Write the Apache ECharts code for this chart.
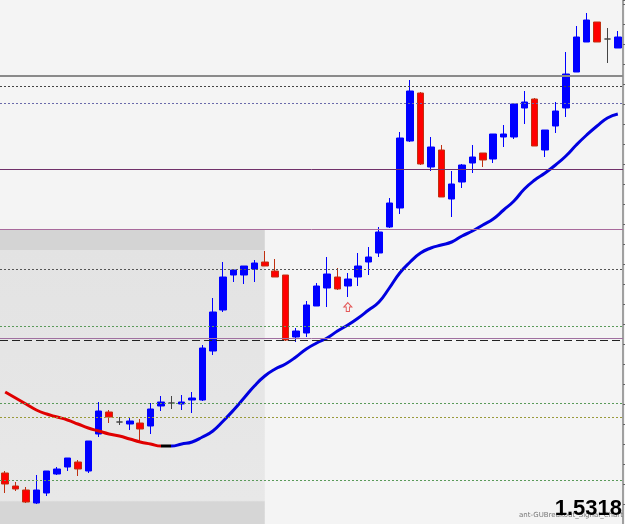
<!DOCTYPE html>
<html>
<head>
<meta charset="utf-8">
<script src="https://cdn.jsdelivr.net/npm/echarts@6/dist/echarts.min.js"></script>
<style>
  html, body { margin: 0; padding: 0; background: #f4f4f4; }
  #main { width: 625px; height: 524px; }
</style>
</head>
<body>
<div id="main"></div>
<script>
// candles: open, close, low, high
let opens  = [1.4851,1.4838,1.4834,1.4821,1.4831,1.4850,1.4857,1.4862,1.4853,1.4890,
              1.4912,1.4902,1.4900,1.4901,1.4898,1.4918,1.4921,1.4920,1.4924,1.4924,
              1.4973,1.5014,1.5049,1.5049,1.5055,1.5062,1.5053,1.5049,1.4987,1.4991,
              1.5018,1.5036,1.5047,1.5038,1.5047,1.5062,1.5071,1.5097,1.5116,1.5183,
              1.5231,1.5157,1.5174,1.5125,1.5142,1.5161,1.5171,1.5165,1.5187,1.5187,
              1.5216,1.5225,1.5174,1.5198,1.5216,1.5252,1.5282,1.5302,1.5285,1.5276]
let closes = [1.4840,1.4835,1.4822,1.4834,1.4853,1.4855,1.4866,1.4855,1.4883,1.4913,
              1.4907,1.4902,1.4903,1.4895,1.4915,1.4922,1.4921,1.4922,1.4926,1.4976,
              1.5012,1.5047,1.5054,1.5058,1.5061,1.5058,1.5047,1.4984,1.4993,1.5019,
              1.5038,1.5050,1.5035,1.5045,1.5058,1.5067,1.5092,1.5121,1.5186,1.5233,
              1.5160,1.5177,1.5127,1.5140,1.5159,1.5167,1.5164,1.5190,1.5190,1.5220,
              1.5222,1.5178,1.5194,1.5213,1.5250,1.5287,1.5304,1.5282,1.5285,1.5287]
let lows   = [1.4831,1.4833,1.4821,1.4820,1.4828,1.4849,1.4853,1.4848,1.4851,1.4887,
              1.4901,1.4899,1.4894,1.4882,1.4890,1.4913,1.4915,1.4914,1.4911,1.4923,
              1.4969,1.5012,1.5042,1.5040,1.5042,1.5058,1.5047,1.4983,1.4982,1.4987,
              1.5018,1.5017,1.5034,1.5027,1.5038,1.5049,1.5067,1.5096,1.5110,1.5182,
              1.5159,1.5153,1.5127,1.5107,1.5136,1.5151,1.5157,1.5161,1.5177,1.5185,
              1.5200,1.5178,1.5167,1.5191,1.5207,1.5252,1.5282,1.5282,1.5261,1.5276]
let highs  = [1.4853,1.4842,1.4837,1.4849,1.4853,1.4857,1.4866,1.4864,1.4883,1.4922,
              1.4914,1.4907,1.4906,1.4905,1.4921,1.4928,1.4928,1.4929,1.4932,1.4979,
              1.5026,1.5062,1.5055,1.5058,1.5064,1.5073,1.5065,1.5049,1.4996,1.5023,
              1.5041,1.5067,1.5056,1.5051,1.5071,1.5077,1.5097,1.5126,1.5192,1.5244,
              1.5232,1.5187,1.5179,1.5153,1.5160,1.5179,1.5171,1.5190,1.5199,1.5220,
              1.5233,1.5226,1.5194,1.5222,1.5272,1.5298,1.5311,1.5302,1.5296,1.5293]

// moving average
let maValues = [1.4932,1.4926,1.4920,1.4914,1.4910,1.4907,1.4904,1.4900,1.4896,1.4893,
                1.4890,1.4888,1.4885,1.4882,1.4880,1.4878,1.4878,1.4880,1.4882,1.4887,
                1.4893,1.4903,1.4914,1.4926,1.4938,1.4948,1.4955,1.4960,1.4967,1.4975,
                1.4981,1.4986,1.4993,1.4999,1.5006,1.5014,1.5022,1.5036,1.5051,1.5062,
                1.5071,1.5076,1.5079,1.5082,1.5088,1.5093,1.5099,1.5105,1.5114,1.5123,
                1.5135,1.5144,1.5151,1.5159,1.5168,1.5179,1.5189,1.5198,1.5206,1.5210]

// horizontal price levels
let levelPrices = [1.5248, 1.5238, 1.5221, 1.5155, 1.5095, 1.5055, 1.4998, 1.4986, 1.4984, 1.4921, 1.4907, 1.4844]
let levelColors = ['#8a8a8a','#444444','#6a6aaa','#70306a','#a86a9c','#555555','#5a9a5a','#a070a0','#222222','#5a9a5a','#9a9a3a','#5a9a5a']
let levelTypes  = ['solid','dotted','dotted','solid','solid','dotted','dotted','solid','dashed','dotted','dotted','dotted']

// shaded zone (ends at candle 25, top at the 1.5095 level)
let zoneEndIndex = 25
let zoneTop = 1.5095

// signal arrow
let arrowIndex = 33
let arrowPrice = 1.5017

let yMin = 1.4800
let yMax = 1.5324

let categories = opens.map((v, i) => i)

let candleData = opens.map((o, i) => {
    let item = { value: [o, closes[i], lows[i], highs[i]] }
    if (o === closes[i]) {
        item.itemStyle = { color: '#444', borderColor: '#444' }
    }
    return item
})

let levelLines = levelPrices.map((p, i) => {
    let t = levelTypes[i]
    return {
        yAxis: p,
        lineStyle: {
            color: levelColors[i],
            width: i === 0 ? 2 : 1,
            type: t === 'dotted' ? [2, 2] : (t === 'dashed' ? [8, 4] : 'solid')
        }
    }
})

let myChart = echarts.init(document.getElementById('main'))

myChart.setOption({
    animation: false,
    backgroundColor: '#f4f4f4',
    grid: { left: 0, right: 2, top: 0, bottom: 0 },
    xAxis: {
        type: 'category',
        data: categories,
        boundaryGap: true,
        axisLine: { show: false },
        axisTick: { show: false },
        axisLabel: { show: false },
        splitLine: { show: false }
    },
    yAxis: {
        type: 'value',
        position: 'right',
        min: yMin,
        max: yMax,
        interval: 0.002,
        axisLine: { show: true, lineStyle: { color: '#a0a0a0', width: 2 } },
        axisTick: { show: true, inside: false, length: 3, lineStyle: { color: '#666' } },
        axisLabel: { show: false },
        splitLine: { show: false }
    },
    visualMap: {
        show: false,
        type: 'piecewise',
        seriesIndex: 1,
        dimension: 0,
        pieces: [
            { lte: 15, color: '#e00000' },
            { gt: 15, lte: 16, color: '#000000' },
            { gt: 16, color: '#0000e0' }
        ]
    },
    series: [
        {
            type: 'candlestick',
            data: candleData,
            barWidth: 7,
            itemStyle: {
                color: '#0000ff',
                color0: '#ff0000',
                borderColor: '#0000ff',
                borderColor0: '#c03010',
                borderWidth: 1
            },
            markArea: {
                silent: true,
                itemStyle: {
                    color: new echarts.graphic.LinearGradient(0, 0, 0, 1, [
                        { offset: 0, color: '#d4d4d4' },
                        { offset: 0.07, color: '#d4d4d4' },
                        { offset: 0.071, color: '#e3e3e3' },
                        { offset: 0.92, color: '#e8e8e8' },
                        { offset: 0.925, color: '#d6d6d6' },
                        { offset: 1, color: '#d6d6d6' }
                    ])
                },
                data: [[{}, { xAxis: zoneEndIndex, yAxis: zoneTop }]]
            },
            markLine: {
                silent: true,
                symbol: 'none',
                precision: 4,
                label: { show: false },
                data: levelLines
            },
            z: 3
        },
        {
            type: 'line',
            data: maValues,
            smooth: true,
            showSymbol: false,
            lineStyle: { width: 3 },
            z: 4
        },
        {
            type: 'scatter',
            data: [[arrowIndex, arrowPrice]],
            symbol: 'path://M5,0 L10,5 L7,5 L7,10 L3,10 L3,5 L0,5 Z',
            symbolSize: [8, 9],
            itemStyle: { color: 'rgba(0,0,0,0)', borderColor: '#e03030', borderWidth: 1 },
            z: 5
        }
    ],
    graphic: [
        {
            type: 'text',
            left: 519,
            top: 512,
            style: { text: 'ant-GUBreakout_Signal_Chart', fill: '#777', font: '7px "DejaVu Sans"' },
            z: 10
        },
        {
            type: 'text',
            right: 3,
            top: 498,
            style: { text: '1.5318', fill: '#000', font: 'bold 22px "Liberation Sans", Arial' },
            z: 11
        }
    ]
})
</script>
</body>
</html>
